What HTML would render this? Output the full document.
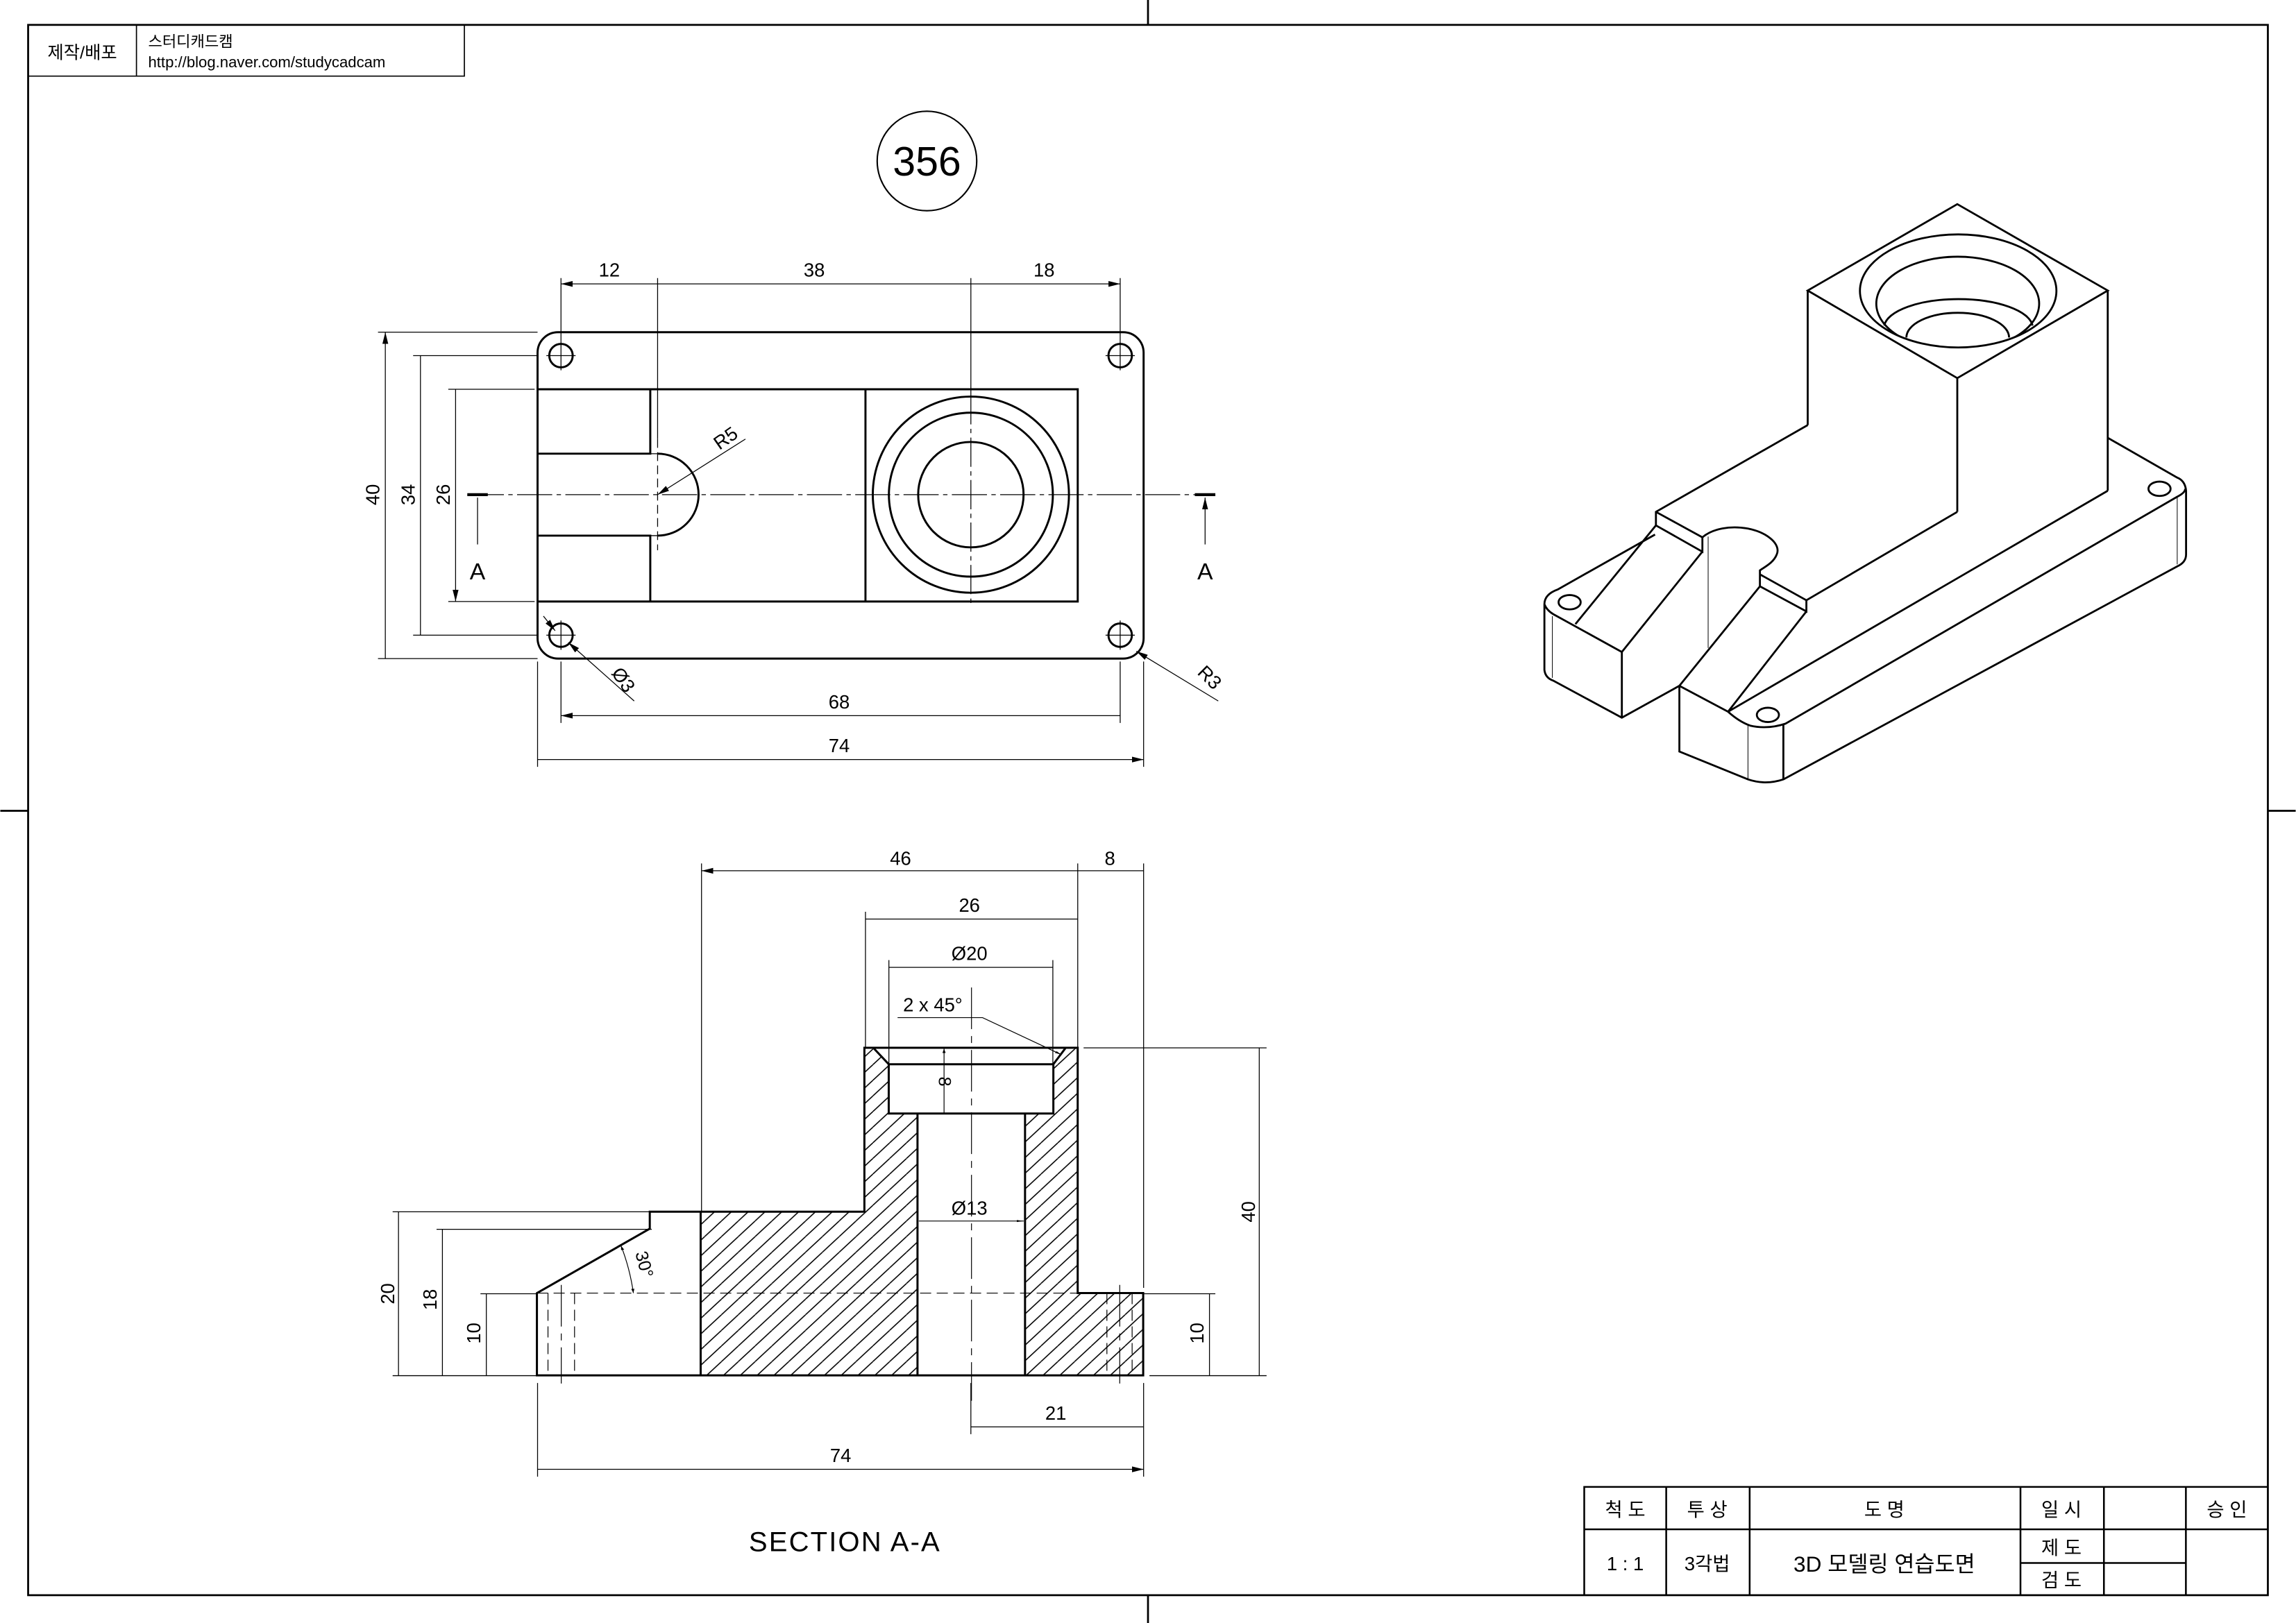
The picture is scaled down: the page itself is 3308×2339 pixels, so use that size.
<!DOCTYPE html>
<html><head><meta charset="utf-8">
<style>
html,body{margin:0;padding:0;background:#fff;}
svg{display:block;}
text{font-family:"Liberation Sans","Noto Sans CJK KR",sans-serif;fill:#000;}
</style></head>
<body>
<svg width="3308" height="2339" viewBox="0 0 1568 1109" xmlns="http://www.w3.org/2000/svg">
<defs>
<marker id="a" markerUnits="userSpaceOnUse" markerWidth="9" markerHeight="5" refX="8" refY="2.5" orient="auto-start-reverse" viewBox="0 0 9 5">
<path d="M0,0.5 L8,2.5 L0,4.5 Z" fill="#000"/></marker>
<marker id="b" markerUnits="strokeWidth" markerWidth="8" markerHeight="4" refX="7" refY="2" orient="auto-start-reverse" viewBox="0 0 8 4">
<path d="M0,0.4 L7,2 L0,3.6 Z" fill="#000"/></marker>
<pattern id="h" patternUnits="userSpaceOnUse" width="38" height="57">
<path d="M-38,57 L0,0 M0,57 L38,0 M38,57 L76,0" stroke="#000" stroke-width="3"/></pattern>
<clipPath id="ce"><ellipse cx="975" cy="243" rx="222" ry="142"/></clipPath>
</defs>
<rect width="1568" height="1109" fill="#fff"/>
<!-- frame -->
<g stroke="#000" fill="none" stroke-width="1.3">
<rect x="19" y="17" width="1530" height="1073"/>
<path d="M784,0V17 M784,1090V1109 M0,554H19 M1549,554H1568"/>
</g>
<g stroke="#000" fill="none" stroke-width="0.8">
<path d="M19,52H317V17 M93,17V52"/>
</g>
<text x="56" y="40" font-size="12" text-anchor="middle">제작/배포</text>
<text x="101" y="32" font-size="10.5">스터디캐드캠</text>
<text x="101" y="46" font-size="10.5">http://blog.naver.com/studycadcam</text>
<circle cx="633" cy="110" r="34" fill="none" stroke="#000" stroke-width="1"/>
<text x="633" y="120" font-size="28" text-anchor="middle">356</text>

<!-- TOP VIEW -->
<g stroke="#000" fill="none" stroke-width="1.4">
<rect x="367" y="227" width="414" height="223" rx="14"/>
<path d="M367,266H736V411H367 M367,310H444V266 M367,366H444V411 M591,266V411 M449,310 A28,28 0 0 1 449,366"/>
<circle cx="383" cy="243" r="8"/><circle cx="765" cy="243" r="8"/>
<circle cx="383" cy="434" r="8"/><circle cx="765" cy="434" r="8"/>
<circle cx="663" cy="338" r="67"/><circle cx="663" cy="338" r="56"/><circle cx="663" cy="338" r="36"/>
</g>
<g stroke="#000" fill="none" stroke-width="0.6">
<path d="M320,338H830" stroke-dasharray="24,3,3,3"/>
<path d="M663,270V415" stroke-dasharray="20,3,3,3"/>
<path d="M444,310H449 M444,366H449 M449,300V376" stroke-dasharray="6,3"/>
<path d="M373,243H393 M383,233V253 M755,243H775 M765,233V253 M373,434H393 M383,424V444 M755,434H775 M765,424V444"/>
<path d="M383,190V233 M449,190V300 M663,190V270 M765,190V233"/>
<path d="M258,227H367 M282,243H367 M306,266H365 M306,411H365 M282,434H367 M258,450H367"/>
<path d="M367,452V524 M383,452V494 M765,452V494 M781,452V524"/>
<path d="M383,194H449 M449,194H663 M663,194H765" marker-start="url(#a)" marker-end="url(#a)"/>
<path d="M263,227V450 M287,243V434 M311,266V411" marker-start="url(#a)" marker-end="url(#a)"/>
<path d="M383,489H765 M367,519H781" marker-start="url(#a)" marker-end="url(#a)"/>
<path d="M449,338L509,300" marker-start="url(#a)"/>
<path d="M371,421L379,431" marker-end="url(#a)"/>
<path d="M433,479L388,439" marker-end="url(#a)"/>
<path d="M832,479L776,445" marker-end="url(#a)"/>
<path d="M326,372V340 M823,372V340" marker-end="url(#a)"/>
</g>
<path d="M319,338H333 M816,338H830" stroke="#000" stroke-width="2"/>
<g font-size="13" text-anchor="middle">
<text x="416" y="189">12</text><text x="556" y="189">38</text><text x="713" y="189">18</text>
<text x="573" y="484">68</text><text x="573" y="514">74</text>
<text transform="translate(259,338) rotate(-90)">40</text>
<text transform="translate(283,338) rotate(-90)">34</text>
<text transform="translate(307,338) rotate(-90)">26</text>
<text transform="translate(498,303) rotate(-35)">R5</text>
<text transform="translate(422,467) rotate(55)">Ø3</text>
<text transform="translate(823,466) rotate(45)">R3</text>
<text x="326" y="396" font-size="16">A</text>
<text x="823" y="396" font-size="16">A</text>
</g>

<!-- SECTION VIEW (zoom coords) -->
<g transform="translate(331.8,663.5) scale(0.3023,0.1873)">
<path d="M485,878H855V280H875L910,340V520H975V1475H485Z M1310,280H1337V1175H1485V1475H1218V520H1282V340Z" fill="url(#h)" stroke="none"/>
<g stroke="#000" fill="none" stroke-width="3">
<path d="M115,1175L370,940V878H855V280H1337V1175H1485V1475H115Z" vector-effect="non-scaling-stroke"/>
<path d="M875,280L910,340H1282L1310,280 M910,340V520H1282V340 M975,520V1475 M1218,520V1475 M485,878V1475" vector-effect="non-scaling-stroke"/>
</g>
<g stroke="#000" fill="none" stroke-width="1.2">
<path d="M140,1175V1475 M200,1175V1475 M1403,1175V1475 M1460,1175V1475 M115,1175H1485" stroke-dasharray="16,8" vector-effect="non-scaling-stroke"/>
<path d="M170,1145V1505 M1432,1145V1505 M1097,60V1568" stroke-dasharray="60,10,10,10" vector-effect="non-scaling-stroke"/>
<path d="M1035,283V517 M978,912H1215" marker-start="url(#b)" marker-end="url(#b)" vector-effect="non-scaling-stroke"/>
<path d="M930,170H1122L1300,305" marker-end="url(#b)" vector-effect="non-scaling-stroke"/>
<path d="M305,1002 Q325,1085 333,1175" marker-start="url(#b)" marker-end="url(#b)" vector-effect="non-scaling-stroke"/>
</g>
</g>
<g stroke="#000" fill="none" stroke-width="0.6">
<path d="M479,590V828 M736,590V716 M781,590V880 M591,623V716 M607,656V727 M719,656V727"/>
<path d="M740,716H865 M785,940H865 M781,884H830 M268,828H445 M298,840H445 M328,884H367 M268,940H367"/>
<path d="M663,945V980 M367,945V1009 M781,945V1009"/>
<path d="M479,595H736 M736,595H781 M591,628H736 M607,661H719 M860,716V940 M826,884V940 M272,828V940 M302,840V940 M332,884V940 M663,975H781 M367,1004H781" marker-start="url(#a)" marker-end="url(#a)"/>
</g>
<g font-size="13" text-anchor="middle">
<text x="615" y="591">46</text><text x="758" y="591">8</text><text x="662" y="623">26</text>
<text x="662" y="656">Ø20</text><text x="637" y="691">2 x 45°</text>
<text x="662" y="830">Ø13</text>
<text transform="translate(641,739) rotate(90)" font-size="12">8</text>
<text transform="translate(436,865) rotate(75)" font-size="12">30°</text>
<text x="721" y="970">21</text><text x="574" y="999">74</text>
<text transform="translate(857,828) rotate(-90)">40</text>
<text transform="translate(822,911) rotate(-90)">10</text>
<text transform="translate(269,884) rotate(-90)">20</text>
<text transform="translate(298,888) rotate(-90)">18</text>
<text transform="translate(328,911) rotate(-90)">10</text>
</g>
<text x="577" y="1060" font-size="19" text-anchor="middle" letter-spacing="1">SECTION A-A</text>

<!-- ISO VIEW (zoom coords) -->
<g transform="translate(1042.7,132.7) scale(0.3023,0.2720)">
<g stroke="#000" fill="none" stroke-width="2.8">
<path vector-effect="non-scaling-stroke" d="M635,242L973,25L1313,242L973,462Z M635,242V580 M973,462V798 M1313,242V745"/>
<ellipse vector-effect="non-scaling-stroke" cx="975" cy="243" rx="222" ry="142"/>
<ellipse vector-effect="non-scaling-stroke" cx="974" cy="275" rx="184" ry="118" clip-path="url(#ce)"/>
<path vector-effect="non-scaling-stroke" d="M808,330A168,72 0 0 1 1143,330 M858,360A116,62 0 0 1 1090,360"/>
<path vector-effect="non-scaling-stroke" d="M635,580L292,798V832L397,898V862L292,798 M397,862C420,840 460,832 500,840C545,850 575,880 565,905C558,925 540,935 527,945V985 M527,955L632,1020V1048L527,985 M632,1020L973,798"/>
<path vector-effect="non-scaling-stroke" d="M292,832L110,1080 M397,898L215,1150V1315 M40,1030V1195Q42,1215 60,1222L215,1315L345,1235 M40,1030Q45,1045 60,1055L215,1150 M40,1030Q40,1005 70,993L290,855"/>
<path vector-effect="non-scaling-stroke" d="M345,1235L527,985 M632,1048L455,1300 M1313,745L455,1300"/>
<path vector-effect="non-scaling-stroke" d="M345,1235V1400L500,1470Q540,1485 580,1470L1470,935Q1490,925 1490,905V745Q1488,720 1470,712L1313,612 M345,1235L455,1300Q480,1325 505,1335Q545,1345 585,1330L1470,760Q1488,750 1488,740 M580,1332V1470"/>
<ellipse vector-effect="non-scaling-stroke" cx="1430" cy="740" rx="25" ry="18"/>
<ellipse vector-effect="non-scaling-stroke" cx="545" cy="1308" rx="25" ry="18"/>
<ellipse vector-effect="non-scaling-stroke" cx="97" cy="1025" rx="25" ry="18"/>
</g>
<g stroke="#000" fill="none" stroke-width="1">
<path vector-effect="non-scaling-stroke" d="M410,860V1140 M58,1060V1215 M500,1335V1470 M1470,762V930"/>
</g>
</g>

<!-- TITLE BLOCK -->
<g stroke="#000" fill="none" stroke-width="1.2">
<path d="M1082,1090V1016H1549 M1082,1045H1549 M1138,1016V1090 M1195,1016V1090 M1380,1016V1090 M1437,1016V1090 M1493,1016V1090 M1380,1068H1493"/>
</g>
<g font-size="13" text-anchor="middle">
<text x="1110" y="1036">척  도</text><text x="1166" y="1036">투  상</text>
<text x="1287" y="1036">도        명</text><text x="1408" y="1036">일  시</text>
<text x="1521" y="1036">승  인</text>
<text x="1110" y="1073">1 : 1</text><text x="1166" y="1073">3각법</text>
<text x="1287" y="1074" font-size="15">3D 모델링 연습도면</text>
<text x="1408" y="1062">제  도</text><text x="1408" y="1084">검  도</text>
</g>
</svg>
</body></html>
